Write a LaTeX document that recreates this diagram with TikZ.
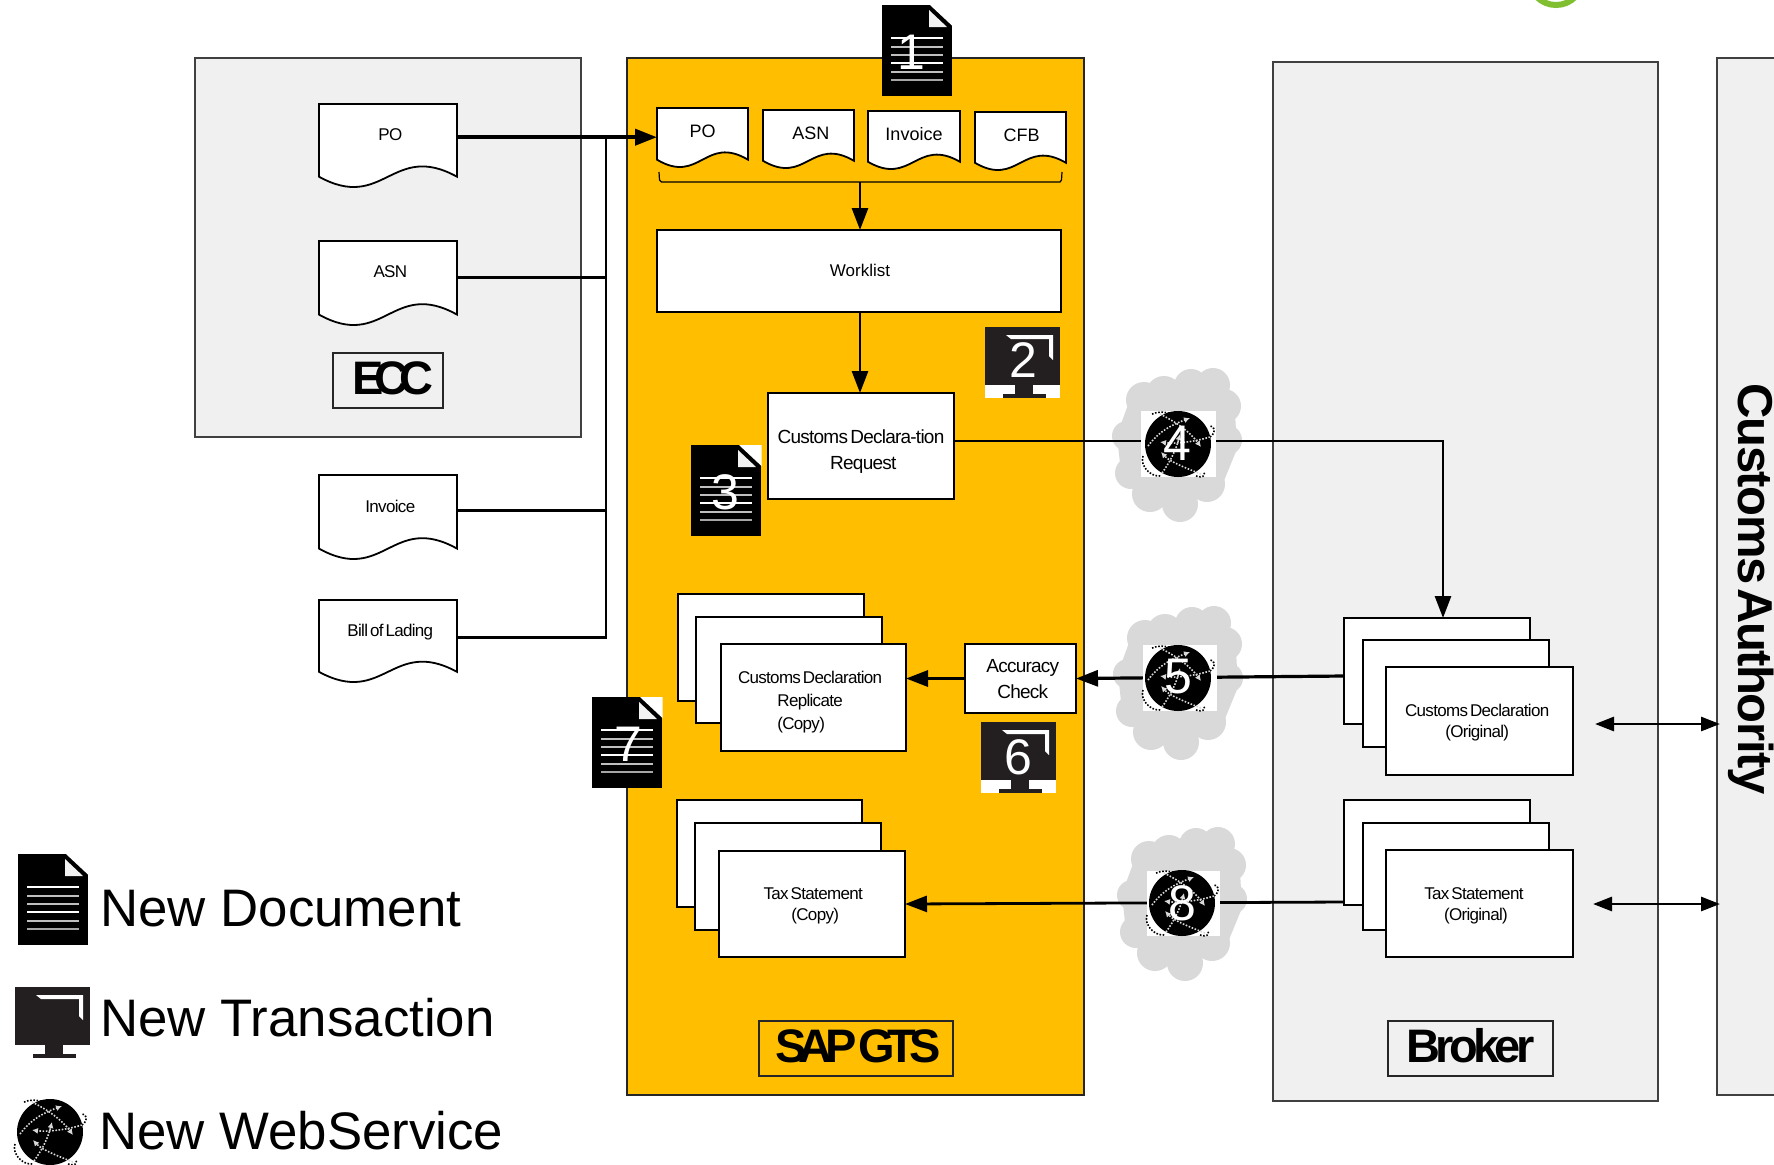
\documentclass[tikz,border=0pt]{standalone}
\usepackage{fontspec}
\setmainfont{Liberation Sans}
\newfontfamily\tightf[LetterSpace=-4,WordSpace=0.5]{Liberation Sans}
\newfontfamily\headb[LetterSpace=-10,WordSpace=0.4]{Liberation Sans}
\newfontfamily\headg[LetterSpace=-16,WordSpace=0.4]{Liberation Sans}
\newfontfamily\heade[LetterSpace=-19]{Liberation Sans}
\newfontfamily\headc[LetterSpace=-3,WordSpace=0.3]{Liberation Sans}
\usetikzlibrary{arrows.meta,calc}
\definecolor{panelgray}{HTML}{F0F0F0}
\definecolor{gtsorange}{HTML}{FFBF00}
\definecolor{cloudgray}{HTML}{D9D9D9}
\definecolor{monitor}{HTML}{231F20}
\definecolor{sapgreen}{HTML}{7FBF30}
\tikzset{
  panel/.style={draw=black!75,line width=0.9pt,fill=panelgray},
  gtspanel/.style={draw=black!85,line width=0.9pt,fill=gtsorange},
  boxbase/.style={draw=black,line width=0.9pt,fill=white,inner sep=0pt,outer sep=0pt,align=center},
  labelbox/.style={draw=black!85,line width=0.8pt,inner sep=0pt,outer sep=0pt,align=center},
  docline/.style={draw=black,line width=0.9pt,fill=white},
  docbox/.style={inner sep=0pt,outer sep=0pt,anchor=north,align=center},
  smalltxt/.style={font=\tightf\fontsize{8.5}{10.5}\selectfont},
  plaintxt/.style={font=\fontsize{9}{11}\selectfont},
  legendtxt/.style={font=\fontsize{26.4}{28}\selectfont,anchor=base west,inner sep=0pt},
  digit/.style={font=\fontsize{25}{25}\selectfont,text=white,inner sep=0pt},
  conn/.style={draw=black,line width=1.4pt},
  thickconn/.style={draw=black,line width=2pt},
  tip/.style={-{Triangle[length=11pt,width=8pt]}},
  bothtip/.style={{Triangle[length=9.5pt,width=7pt]}-{Triangle[length=9.5pt,width=7pt]}},
  wdot/.style={white!85!black,line width=0.8pt,dash pattern=on 0.8pt off 0.8pt},
  bdot/.style={black,line width=0.8pt,dash pattern=on 0.8pt off 0.8pt}
}
\newcommand{\tb}[3]{\hspace*{#1}\raisebox{#2}[\height][\depth]{\begin{tabular}{@{}c@{}}#3\end{tabular}}}
\newcommand{\ecclab}[1]{\hspace*{2.3pt}\raisebox{2.6pt}{#1}}
\newcommand{\rectnode}[7]{% name x0 y0 x1 y1 style text
  \node[boxbase,#6,minimum width={(#4-#2)*0.5pt},minimum height={(#5-#3)*0.5pt}] (#1) at ({(#2+#4)/2},{(#3+#5)/2}) {#7};}
\newcommand{\docshape}[7]{% name x0 y0 x1 y1 style text
  \pgfmathsetmacro{\yb}{#3+0.876*(#5-#3)}
  \pgfmathsetmacro{\ca}{#2+0.47*(#4-#2)}
  \pgfmathsetmacro{\cb}{#2+0.53*(#4-#2)}
  \pgfmathsetmacro{\ya}{\yb+0.43*(#5-#3)}
  \pgfmathsetmacro{\yc}{\yb-0.43*(#5-#3)}
  \path[docline] (#2,#3) -- (#4,#3) -- (#4,\yb) .. controls (\cb,\yc) and (\ca,\ya) .. (#2,\yb) -- cycle;
  \node[docbox,#6,minimum width={(#4-#2)*0.5pt},minimum height={(#5-#3)*0.4pt}] (#1) at ({(#2+#4)/2},#3) {#7};}
\newcommand{\docglyph}[2]{%
  \begin{scope}[shift={(#1,#2)}]
    \fill[black] (0,0) rectangle (70,91);
    \fill[white] (48,0) -- (70.5,0) -- (70.5,21) -- cycle;
    \fill[black!5] (47,5) -- (47,22) -- (65,22) -- cycle;
    \foreach \ly/\lc in {33/white,42/black!25,50/black!25,58/white,67/black!25,75/black!35}
      \draw[\lc,line width=0.6pt] (9,\ly) -- (61,\ly);
  \end{scope}}
\newcommand{\monglyph}[2]{%
  \begin{scope}[shift={(#1,#2)}]
    \fill[white] (0,0) rectangle (75,71);
    \fill[monitor] (0,0) rectangle (75,58);
    \fill[monitor] (30,58) rectangle (48,67);
    \fill[monitor] (18,67) rectangle (61,71);
    \fill[white] (21,8) -- (68,8) -- (68,33) -- (64,29) -- (64,12) -- (26,12) -- cycle;
  \end{scope}}
\newcommand{\globeglyph}[2]{%
  \begin{scope}[shift={(#1,#2)}]
    \fill[black] (0,0) circle [radius=33];
    \draw[wdot,-{Latex[length=3pt,width=3pt]}] (-30,2) .. controls (-18,-14) and (-4,-20) .. (12,-26);
    \draw[wdot,-{Latex[length=3pt,width=3pt]}] (-18,-30) .. controls (-2,-22) and (12,-12) .. (23,3);
    \draw[wdot,-{Latex[length=3pt,width=3pt]}] (32,-7) .. controls (16,-2) and (-4,0) .. (-18,-2);
    \draw[wdot,-{Latex[length=3pt,width=3pt]}] (-16,29) .. controls (-8,18) and (-2,6) .. (2,-10);
    \draw[wdot,-{Latex[length=3pt,width=3pt]}] (23,30) .. controls (8,24) and (-8,18) .. (-17,8);
    \draw[bdot] (-26,-30) .. controls (-20,-33) and (-12,-32) .. (-6,-30);
    \draw[bdot] (32,-7) .. controls (38,-11) and (38,-18) .. (31,-18);
    \draw[bdot] (-35,12) .. controls (-38,22) and (-28,33) .. (-17,32);
    \draw[bdot] (18,32) .. controls (24,34) and (28,32) .. (26,28);
  \end{scope}}
\newcommand{\cloudglyph}[2]{%
  \begin{scope}[shift={(#1,#2)}]
    \fill[cloudgray] (-48,-42) -- (-33,-55) -- (-10,-62) -- (46,-56) -- (58,-32) -- (60,5) -- (44,44) -- (20,55) -- (2,65) -- (-27,60) -- (-42,48) -- (-56,29) -- (-60,-9) -- cycle;
    \foreach \cx/\cy/\cr in {-33/-44/18,-13/-50/18,14/-58/17,36/-59/17,47/-38/17,50/-4/15,30/40/18,3/60/18,-27/50/18,-46/29/16,-50/-8/15}
      \fill[cloudgray] (\cx,\cy) circle [radius=\cr];
  \end{scope}}
\begin{document}
\begin{tikzpicture}[x=0.5pt,y=-0.5pt]
\useasboundingbox (0,0) rectangle (1774,1164);
\fill[white] (0,0) rectangle (1774,1164);
% green fragment at the top
\draw[sapgreen,line width=3pt] (1556,-22) circle [radius=27];
% panels
\path[panel] (195,58) rectangle (581,437);
\path[gtspanel] (627,58) rectangle (1084,1095);
\path[panel] (1273,62) rectangle (1658,1101);
\path[panel] (1717,58) rectangle (1785,1095);
% clouds
\cloudglyph{1177}{444}
\cloudglyph{1178}{682}
\cloudglyph{1182}{903}
% left documents
\docshape{poE}{319}{104}{457}{187}{smalltxt}{\ecclab{PO}}
\docshape{asnE}{319}{241}{457}{325}{smalltxt}{\ecclab{ASN}}
\docshape{invE}{319}{475}{457}{559}{smalltxt}{\ecclab{Invoice}}
\docshape{billE}{319}{600}{457}{682}{smalltxt}{\ecclab{Bill of Lading}}
\rectnode{ecc}{333}{353}{443}{408}{labelbox,fill=panelgray,font=\heade\bfseries\fontsize{23.5}{26}\selectfont}{\hspace*{5pt}\raisebox{2.3pt}{ECC}}
% GTS documents
\docshape{poG}{657}{108}{748}{167}{plaintxt}{PO}
\docshape{asnG}{763}{110}{854}{168}{plaintxt}{\hspace*{2.3pt}ASN}
\docshape{invG}{868}{111}{960}{169}{plaintxt}{Invoice}
\docshape{cfbG}{975}{112}{1066}{170}{plaintxt}{\hspace*{1.1pt}CFB}
% brace
\coordinate (braceL) at (659,172);
\coordinate (braceR) at (1062,172);
\coordinate (braceM) at (860,182);
\draw[black,line width=0.6pt] (braceL) -- ++(0.5,8) -- ++(2,2) -- (1060,182) -- ++(1.5,-2) -- (braceR);
% GTS boxes
\rectnode{work}{657}{230}{1061}{312}{font=\fontsize{8.5}{10.5}\selectfont}{\hspace*{1pt}\raisebox{1.1pt}{Worklist}}
\rectnode{cdr}{768}{393}{954}{499}{font=\tightf\fontsize{9.5}{13}\selectfont}{\tb{0pt}{-2.5pt}{Customs Declara-tion\\\hspace*{2.3pt}Request}}
\rectnode{acc}{965}{644}{1076}{713}{font=\tightf\fontsize{9.5}{12.8}\selectfont}{\tb{2.3pt}{-0.85pt}{Accuracy\\Check}}
% stacks
\rectnode{cdBackG}{678}{594}{864}{701}{}{}
\rectnode{cdMidG}{696}{617}{882}{723}{}{}
\rectnode{cdFrontG}{721}{644}{906}{751}{font=\tightf\fontsize{8.5}{11.3}\selectfont}{\tb{-3.4pt}{-2.26pt}{Customs Declaration\\Replicate\\(Copy)\hspace*{9pt}}}
\rectnode{taxBackG}{677}{800}{862}{907}{}{}
\rectnode{taxMidG}{695}{823}{881}{930}{}{}
\rectnode{taxFrontG}{719}{851}{905}{957}{smalltxt}{\tb{1.2pt}{-1.13pt}{Tax Statement\\\hspace*{2pt}(Copy)}}
\rectnode{cdBackB}{1344}{618}{1530}{724}{}{}
\rectnode{cdMidB}{1363}{640}{1549}{747}{}{}
\rectnode{cdFrontB}{1386}{667}{1573}{775}{smalltxt}{\tb{-2.3pt}{-1.13pt}{Customs Declaration\\(Original)}}
\rectnode{taxBackB}{1344}{800}{1530}{905}{}{}
\rectnode{taxMidB}{1363}{823}{1549}{930}{}{}
\rectnode{taxFrontB}{1386}{850}{1573}{957}{smalltxt}{\tb{-5.6pt}{-1.13pt}{Tax Statement\\\hspace*{2pt}(Original)}}
% panel labels
\rectnode{gts}{759}{1021}{953}{1076}{labelbox,fill=gtsorange,font=\headg\bfseries\fontsize{23.5}{26}\selectfont}{\hspace*{1.7pt}\raisebox{2.3pt}{SAP GTS}}
\rectnode{broker}{1388}{1021}{1553}{1076}{labelbox,fill=panelgray,font=\headb\bfseries\fontsize{23.5}{26}\selectfont}{\raisebox{3.4pt}{Broker}}
\node[font=\headc\bfseries\fontsize{24.5}{26}\selectfont,rotate=-90,inner sep=0pt,anchor=base] (authority) at (1738,589) {Customs Authority};
% connectors
\coordinate (busTop) at (606,137);
\draw[thickconn,tip] (poE.east) -- (poE.east -| poG.west);
\draw[conn] ([yshift=-1.5pt]asnE.east) -- ([yshift=-1.5pt]asnE.east -| busTop);
\draw[conn] ([yshift=-1pt]invE.east) -- ([yshift=-1pt]invE.east -| busTop);
\draw[conn] ([yshift=-2.5pt]billE.east) -| (busTop);
\draw[conn,tip] (braceM) -- (braceM |- work.north);
\draw[conn,tip] (braceM |- work.south) -- (braceM |- cdr.north);
\draw[conn,tip] ([yshift=2.5pt]cdr.east) -| ([xshift=3pt]cdBackB.north);
\draw[conn,line width=1.6pt,tip] ([yshift=-2.5pt]cdBackB.west) -- (acc.east);
\draw[thickconn,line width=1.6pt,tip] (acc.west) -- (acc.west -| cdFrontG.east);
\draw[conn,tip] ([yshift=-24.75pt]taxBackB.west) -- (taxFrontG.east);
\coordinate (dblA1) at (1595,724);
\coordinate (dblA2) at (1720,724);
\coordinate (dblB1) at (1593,904);
\coordinate (dblB2) at (1720,904);
\draw[conn,bothtip] (dblA1) -- (dblA2);
\draw[conn,bothtip] (dblB1) -- (dblB2);
% numbered icons
\docglyph{882}{5}
\node[digit] (n1) at (911,52) {1};
\monglyph{985}{327}
\node[digit] (n2) at (1023,360) {2};
\docglyph{691}{445}
\node[digit] (n3) at (725,492) {3};
\fill[white] (1141,411) rectangle (1216,477);
\globeglyph{1178}{444}
\node[digit] (n4) at (1177,443) {4};
\fill[white] (1143,645) rectangle (1217,711);
\globeglyph{1178}{678}
\node[digit] (n5) at (1178,677) {5};
\docglyph{592}{697}
\node[digit] (n7) at (628,744) {7};
\monglyph{981}{722}
\node[digit] (n6) at (1018,757) {6};
\fill[white] (1147,871) rectangle (1220,936);
\globeglyph{1182}{903}
\node[digit] (n8) at (1182,903) {8};
% legend
\docglyph{18}{854}
\node[legendtxt] (legDoc) at (100,926) {New Document};
\monglyph{15}{987}
\node[legendtxt] (legTrans) at (100,1036) {New Transaction};
\globeglyph{50}{1132}
\node[legendtxt] (legWeb) at (99,1149) {New WebService};
\end{tikzpicture}
\end{document}
